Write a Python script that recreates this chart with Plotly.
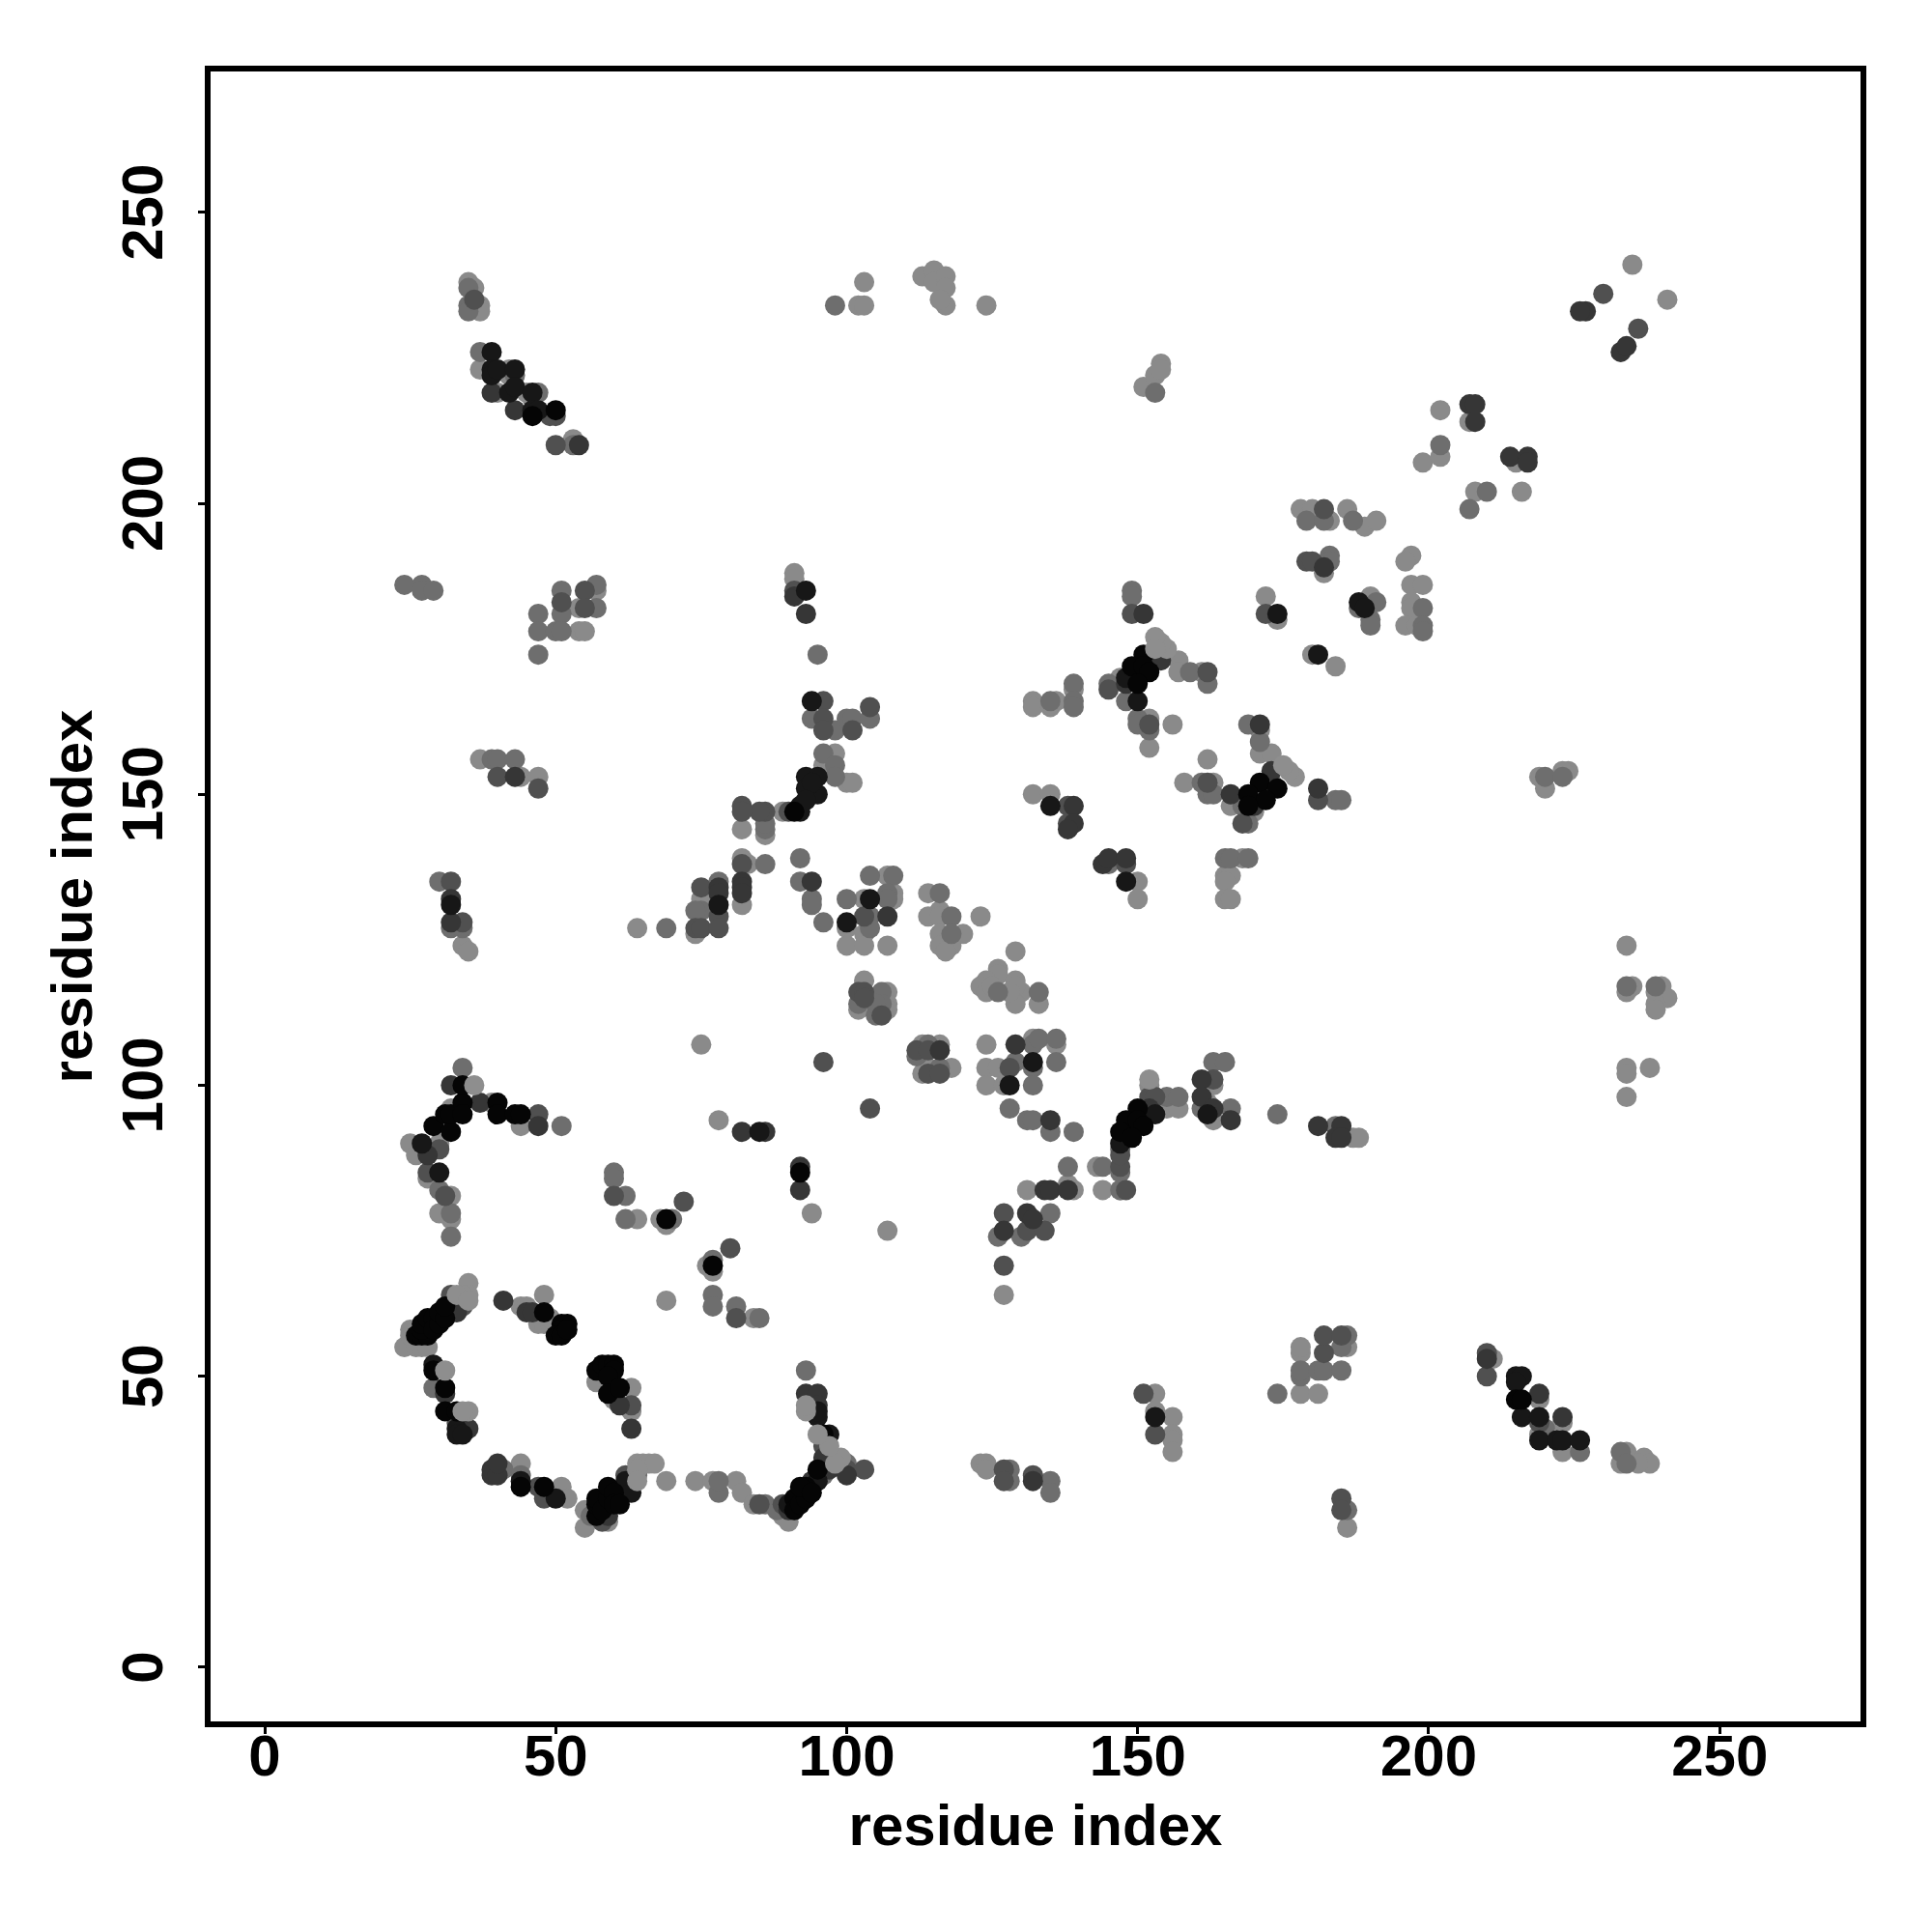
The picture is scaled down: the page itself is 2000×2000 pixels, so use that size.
import plotly.graph_objects as go

black = [(26,57),(27,57),(28,57),(27,58),(27,59),(28,60),(29,60),(29,58),(30,59),(30,61),(31,60),(31,62),
(51,59),(52,59),(51,58),(50,57),(51,57),(52,58),(48,61),(31,48),(31,44),(33,44),(29,51),
(57,51),(58,52),(59,52),(60,52),(60,51),(59,50),(59,47),(61,48),(44,31),(48,31),
(57,26),(57,28),(57,29),(58,27),(59,29),(59,31),(60,30),(60,28),(61,28),
(91,29),(91,27),(92,28),(93,29),(93,31),(92,31),(94,30),(95,34),(96,40),
(29,93),(31,95),(32,92),(32,95),(34,97),(34,95),(40,97),(40,95),(43,95),(44,95),(34,100),
(69,77),(77,69),(92,85),
(150,96),(148,94),(150,94),(151,93),(147,92),(149,91),
(151,174),(149,172),(151,172),(152,171),(150,169),(171,152),(174,151),(169,150),(172,149),(169,148),
(215,46),(216,46),(50,216),(46,215),(91,147)]
darkest = [(29,52),(44,32),(50,29),(61,29),(62,31),(62,32),(63,30),(90,28),(95,32),(97,40),(95,43),(95,44),
(27,90),(30,85),(78,131),(85,92),(100,128),(104,132),(128,100),(132,104),(147,90),(153,95),(162,95),
(148,170),(150,166),(181,174),(174,181),(188,183),(189,182),(135,148),(148,135),(153,43),
(39,226),(39,223),(39,222),(40,223),(43,223),(42,219),(43,220),(46,219),(46,216),(47,216),
(215,50),(216,50),(215,49),(216,43),(219,43),(219,39),(222,39),(223,39),(226,39),
(93,153),(95,153),(95,150),(93,151),(94,152),(92,148),(92,147),(93,149),(94,166),(93,185),(32,131),(33,41),(33,40),(34,40)]
dark = [(32,61),(32,62),(33,61),(41,63),(45,61),(46,61),(31,47),(35,41),(61,45),(63,41),(39,33),(39,34),(40,33),(40,35),
(59,26),(90,27),(94,32),(97,34),(96,36),(93,47),(95,47),(100,33),(95,45),
(32,100),(28,88),(37,97),(47,93),(82,92),(86,92),(92,86),(92,82),(82,135),(82,134),(78,134),(94,135),(107,129),
(116,106),(129,107),(135,94),(134,82),(135,82),(138,82),(152,96),(161,101),(161,98),(163,96),(166,94),(181,93),(185,93),(184,91),(185,91),
(151,181),(154,173),(148,169),(166,150),(171,162),(173,154),(170,148),(181,151),(139,148),(139,145),(138,144),
(144,138),(145,139),(148,139),(43,216),(39,219),(54,210),(227,233),(226,233),(233,226),(234,227),
(207,217),(208,217),(208,214),(214,208),(217,208),(217,207),(182,189),(91,184),(93,181),(43,153),(32,132),(32,128),
(210,53),(219,47),(223,43),(127,75),(131,78),(132,77),(132,32),(82,133),(78,133)]
mid = [(33,63),(32,64),(34,62),(34,41),(63,45),(33,42),(47,31),(48,29),(58,25),(62,33),(63,33),(85,28),(89,28),(96,38),(100,34),(103,34),(97,35),
(30,89),(28,85),(47,95),(72,80),(80,72),(60,81),(81,60),(96,104),(104,96),(82,138),(75,134),(78,129),(74,127),(75,127),(78,127),(103,129),
(102,116),(103,116),(103,115),(106,112),(112,106),(114,106),(114,102),(116,102),(128,103),(147,86),(147,88),(148,82),
(152,98),(153,98),(163,101),(149,181),(172,181),(162,171),(145,168),(152,162),(162,152),(181,149),(138,148),(138,145),(148,138),(168,145),
(49,215),(50,215),(50,210),(236,230),(230,236),(179,190),(180,190),(182,199),(51,183),(55,185),(55,182),(91,185),(96,166),(96,163),(96,161),(101,161),(104,165),
(90,147),(86,147),(85,147),(82,148),(82,147),(40,153),(47,151),(32,135),(34,128),(151,47),(153,40),(210,54),(210,50),(219,42),
(182,54),(182,57),(185,57),(127,34),(127,32),(132,33),(185,29),(185,27),(127,69),(127,78),(131,75),(134,75),(36,235),(31,81)]
gray = [(34,42),(29,48),(64,33),(56,26),(86,28),(88,27),(78,30),(78,32),(41,34),(44,33),(96,33),(100,35),(93,51),
(34,103),(51,93),(60,85),(60,84),(62,81),(62,77),(70,77),(30,82),(32,78),(32,74),(77,70),(81,62),(85,60),(77,64),(77,62),
(86,144),(86,145),(86,138),(78,135),(75,130),(74,130),(92,139),(92,135),(94,132),(94,131),(96,128),(104,136),(108,136),(100,132),(107,133),(107,132),(104,129),(104,127),
(116,133),(118,129),(118,126),(126,116),(133,116),(102,114),(106,116),(106,114),(105,112),(105,114),(112,105),(114,107),(116,103),
(132,107),(133,108),(136,108),(129,104),(132,103),(136,104),(132,100),(128,96),(131,94),(132,94),(135,92),(139,92),(138,86),(144,86),(147,85),(147,89),
(155,98),(157,98),(161,96),(163,104),(165,104),(166,96),(174,95),(184,93),(147,82),
(149,185),(149,184),(191,183),(188,182),(190,180),(190,179),(199,182),(199,179),(199,178),(148,166),(150,163),(150,162),(152,161),(145,169),(139,169),(139,166),(139,165),(135,166),
(159,171),(162,169),(169,162),(171,159),(161,152),(162,150),(163,150),(168,148),(169,145),(173,152),(184,149),(185,149),(145,138),(165,139),(166,139),(169,139),
(37,226),(35,237),(35,234),(35,233),(43,222),(47,219),(53,210),(153,219),(202,210),(210,202),(207,199),(179,197),(182,197),(187,197),(183,191),(183,190),
(24,186),(27,186),(27,185),(29,185),(51,185),(51,181),(47,181),(47,178),(50,178),(51,178),(57,186),(57,182),(47,174),(95,174),(94,163),(98,161),(100,163),(101,163),(104,163),
(96,157),(98,155),(98,153),(39,156),(40,156),(43,156),(30,135),(32,127),(34,127),(69,127),(234,117),(239,117),(220,153),(223,153),
(226,37),(233,37),(234,35),(174,47),(178,50),(178,51),(181,51),(182,51),(186,57),(185,55),(185,51),(128,34),(128,32),(135,32),(135,30),(186,27),
(126,74),(130,74),(135,78),(220,41),(98,234)]
light = [(24,55),(25,58),(26,55),(27,55),(28,55),(25,57),(44,62),(45,62),(47,59),(48,59),(49,59),(49,60),(48,64),(57,49),(59,48),(60,46),(63,44),(63,48),
(55,27),(55,24),(59,25),(69,32),(74,32),(77,32),(81,32),(82,30),(84,28),(89,26),(90,25),(51,31),(52,29),(44,35),
(25,90),(26,88),(30,90),(32,96),(39,97),(44,93),(28,84),(32,81),(32,77),(30,78),(64,77),(68,77),(69,76),(94,78),(78,94),(76,69),(77,68),(69,63),(84,60),(107,75),
(82,144),(86,143),(82,139),(83,138),(82,131),(75,132),(74,126),(103,132),(108,133),(108,132),(107,136),(100,127),(103,126),(100,124),(103,124),(107,124),
(114,133),(114,129),(116,130),(116,129),(123,129),(116,126),(120,126),(116,124),(118,124),(117,123),(129,123),(126,120),(126,119),(124,118),(129,118),(123,117),(124,116),(130,116),(129,114),(133,114),(125,117),(129,117),(128,116),
(75,107),(103,118),(102,113),(107,116),(107,114),(107,113),(113,107),(116,107),(113,102),(114,103),(118,103),(124,107),(132,108),(136,107),(124,103),(126,103),(124,100),(127,100),(131,82),(138,83),(139,82),(143,86),(144,82),(147,82),
(152,100),(155,96),(157,96),(162,100),(163,100),(162,97),(163,94),(187,91),(188,91),
(172,184),(174,180),(190,184),(197,186),(199,186),(197,183),(197,182),(196,179),(198,179),(180,174),(184,172),(157,173),(157,171),(161,171),(147,170),(139,168),(132,166),(132,165),(136,166),(135,165),
(152,163),(156,162),(152,158),(171,161),(171,157),(173,157),(162,156),(158,152),(163,152),(166,148),(170,147),(132,150),(135,150),(150,135),(150,132),(168,139),(165,136),(166,136),(165,135),(165,132),(166,132),
(35,238),(36,237),(36,234),(37,234),(37,233),(37,223),(42,223),(42,222),(40,219),(45,219),(46,218),(53,211),
(102,234),(103,234),(103,238),(113,239),(115,240),(115,238),(117,239),(117,237),(117,234),(116,235),(124,234),(235,241),(241,235),
(151,220),(153,222),(154,224),(154,223),(202,216),(207,214),(199,207),(202,208),(215,207),(208,202),(216,202),(178,199),(180,199),(186,199),(183,197),(189,196),(191,197),(182,188),(197,191),(196,190),
(91,188),(91,187),(54,178),(55,178),(54,182),(57,185),(98,157),(96,155),(100,152),(101,152),(89,147),
(37,156),(44,153),(47,153),(34,124),(35,123),(64,127),(234,124),(235,117),(234,116),(240,117),(239,116),(241,115),(239,114),(239,113),(234,103),(234,102),(238,103),(234,98),
(219,153),(220,151),(224,154),(223,154),(211,53),(219,46),(219,40),(223,42),(223,37),(234,37),(233,35),(237,36),(238,35),(236,35),
(153,47),(153,44),(156,43),(156,40),(156,39),(156,37),(178,47),(181,47),(178,54),(178,55),(186,55),(123,35),(124,35),(124,34),(186,24),(127,64)]
light_top = [(35,66),(35,64),(34,64),(33,64),(35,63),(36,100),(64,35),(65,35),(66,35),(67,35),(64,34),(99,36),(98,35),(97,38),(95,40),(93,44),(93,45),
(35,44),(34,44),(31,51),(64,32),(152,101),(177,153),(176,154),(175,155),(155,175),(154,176),(153,177),(153,175)]

shades = [("#8a8a8a", light), ("#6e6e6e", gray), ("#505050", mid), ("#363636", dark),
          ("#171717", darkest), ("#050505", black), ("#8e8e8e", light_top)]
tick_values = [0, 50, 100, 150, 200, 250]
axis_label = "residue index"

fig = go.Figure()
for colour, pts in shades:
    fig.add_trace(go.Scatter(x=[p[0] for p in pts], y=[p[1] for p in pts], mode="markers",
                             marker=dict(size=21, color=colour, line=dict(width=0)),
                             showlegend=False, hoverinfo="skip"))
font = dict(family="Liberation Sans", size=60, color="black", weight="bold")
common = dict(tickmode="array", tickvals=tick_values, ticks="outside", ticklen=7, tickwidth=3,
              tickcolor="black", showline=True, mirror=True, linecolor="black", linewidth=6,
              showgrid=False, zeroline=False, range=[-9.3, 274.2], tickfont=font, automargin=False)
fig.update_layout(width=2000, height=2000, autosize=False, paper_bgcolor="white", plot_bgcolor="white",
                  margin=dict(l=210, r=82, t=66, b=226),
                  xaxis=dict(title=dict(text=axis_label, font=font, standoff=20), ticklabelstandoff=-29, **common),
                  yaxis=dict(title=dict(text=axis_label, font=font, standoff=1), tickangle=-90, ticklabelstandoff=13, ticklabelshift=9, **common))
fig.write_html("out.html")
